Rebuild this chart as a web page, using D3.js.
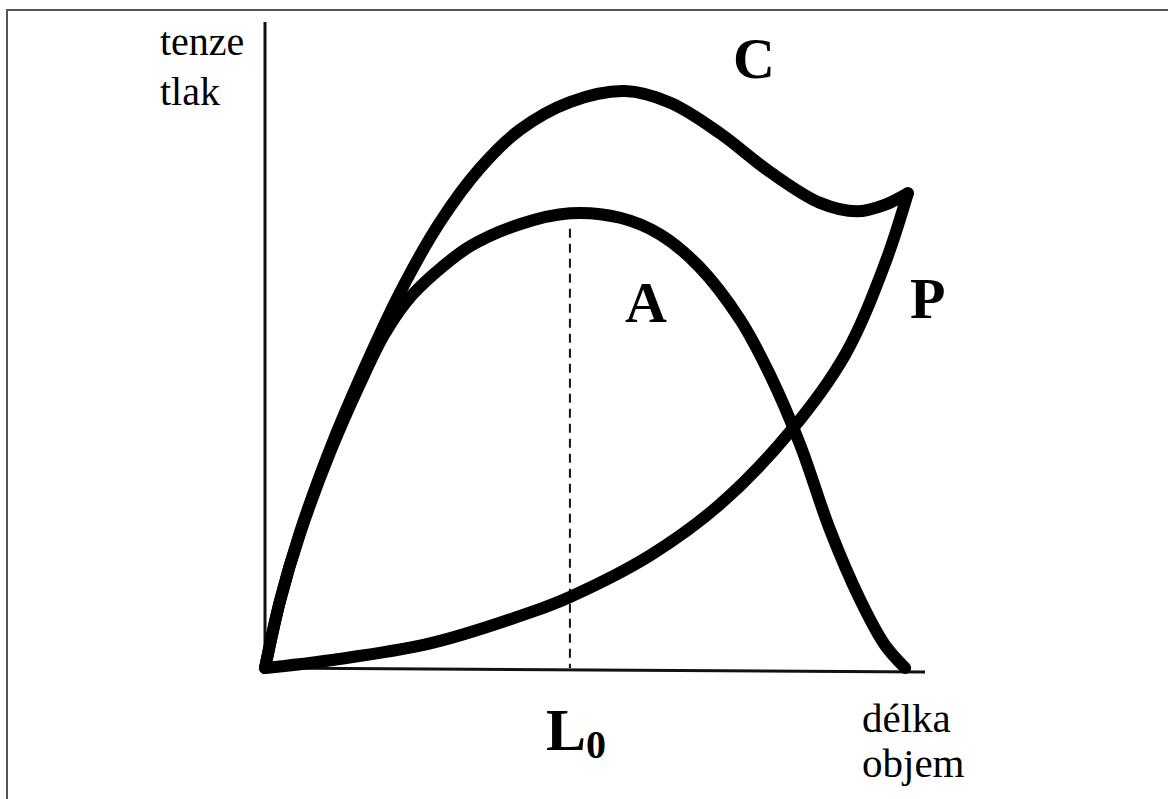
<!DOCTYPE html>
<html><head><meta charset="utf-8">
<script src="https://cdn.jsdelivr.net/npm/d3@7"></script>
<style>body{margin:0;background:#fff}svg{display:block}</style>
</head><body>
<svg id="c" width="1168" height="799"></svg>
<script>
// Active tension curve (A)
const activeX = [0, 2.3, 5.3, 9.9, 14.4, 18.0, 21.5, 25.5, 31.1, 38.6, 46.2, 53.8, 59.9, 65.9, 72.0, 76.5, 81.1, 85.6, 90.2, 93.9, 97.0];
const activeY = [0, 10.5, 20.8, 33.5, 44.0, 51.5, 56.8, 60.9, 65.3, 68.7, 70.4, 69.7, 67.1, 62.0, 53.9, 45.4, 34.5, 21.4, 10.5, 3.6, 0];
// Total tension curve (C)
const totalX = [0, 2.3, 5.3, 9.9, 14.4, 20.5, 26.5, 32.6, 38.6, 46.2, 54.5, 61.4, 68.9, 76.5, 84.1, 89.7, 93.9, 97.4];
const totalY = [0, 10.5, 21.0, 34.0, 44.9, 58.2, 69.0, 77.4, 83.3, 87.6, 89.3, 87.5, 82.8, 76.8, 72.0, 70.7, 71.7, 73.5];
// Passive tension curve (P)
const passiveX = [0, 9.9, 25.0, 40.2, 46.2, 58.3, 68.9, 79.5, 87.9, 93.9, 97.4];
const passiveY = [0, 1.2, 3.8, 8.6, 11.0, 17.4, 25.3, 36.5, 48.5, 62.5, 73.5];
const L0 = 46.2;
const curveLabels = ["C", "A", "P"];
const yLabel = ["tenze", "tlak"];
const xLabel = ["délka", "objem"];

const svg = d3.select("#c");
const x = d3.scaleLinear().domain([0, 100]).range([265, 925]);
const y = d3.scaleLinear().domain([0, 100]).range([668, 22]);

// frame
svg.append("path").attr("d", "M7,810 L7,10 L1175,10").attr("fill", "none")
  .attr("stroke", "#555").attr("stroke-width", 2);

// axes
svg.append("line").attr("x1", x(0)).attr("x2", x(0)).attr("y1", y(0)).attr("y2", y(100))
  .attr("stroke", "#111").attr("stroke-width", 3);
svg.append("line").attr("x1", x(0)).attr("x2", x(100)).attr("y1", y(0)).attr("y2", y(0) + 4)
  .attr("stroke", "#111").attr("stroke-width", 3);

// L0 dashed
svg.append("line").attr("x1", x(L0)).attr("x2", x(L0)).attr("y1", y(68)).attr("y2", y(0))
  .attr("stroke", "#111").attr("stroke-width", 2).attr("stroke-dasharray", "9,6");

const line = d3.line().x(d => x(d[0])).y(d => y(d[1])).curve(d3.curveCatmullRom.alpha(0.5));
[[activeX, activeY], [totalX, totalY], [passiveX, passiveY]].forEach(([xs, ys]) => {
  svg.append("path").attr("d", line(xs.map((v, i) => [v, ys[i]])))
    .attr("fill", "none").attr("stroke", "#000").attr("stroke-width", 12)
    .attr("stroke-linecap", "round").attr("stroke-linejoin", "round");
});

const serif = "'Liberation Serif', 'Times New Roman', serif";
// y label
svg.append("text").attr("x", 160).attr("y", 55).attr("font-family", serif).attr("font-size", 40).text(yLabel[0]);
svg.append("text").attr("x", 160).attr("y", 105).attr("font-family", serif).attr("font-size", 40).text(yLabel[1]);
// x label
svg.append("text").attr("x", 862).attr("y", 732).attr("font-family", serif).attr("font-size", 41).text(xLabel[0]);
svg.append("text").attr("x", 862).attr("y", 777).attr("font-family", serif).attr("font-size", 41).text(xLabel[1]);

// curve labels
const pos = [[733, 78], [625, 322], [910, 318]];
curveLabels.forEach((t, i) => {
  svg.append("text").attr("x", pos[i][0]).attr("y", pos[i][1]).attr("font-family", serif)
    .attr("font-weight", "bold").attr("font-size", 58).text(t);
});

// L0 label
const l0 = svg.append("text").attr("x", 546).attr("y", 750).attr("font-family", serif)
  .attr("font-weight", "bold").attr("font-size", 60);
l0.append("tspan").text("L");
l0.append("tspan").attr("font-size", 40).attr("dy", 8).text("0");
</script>
</body></html>
